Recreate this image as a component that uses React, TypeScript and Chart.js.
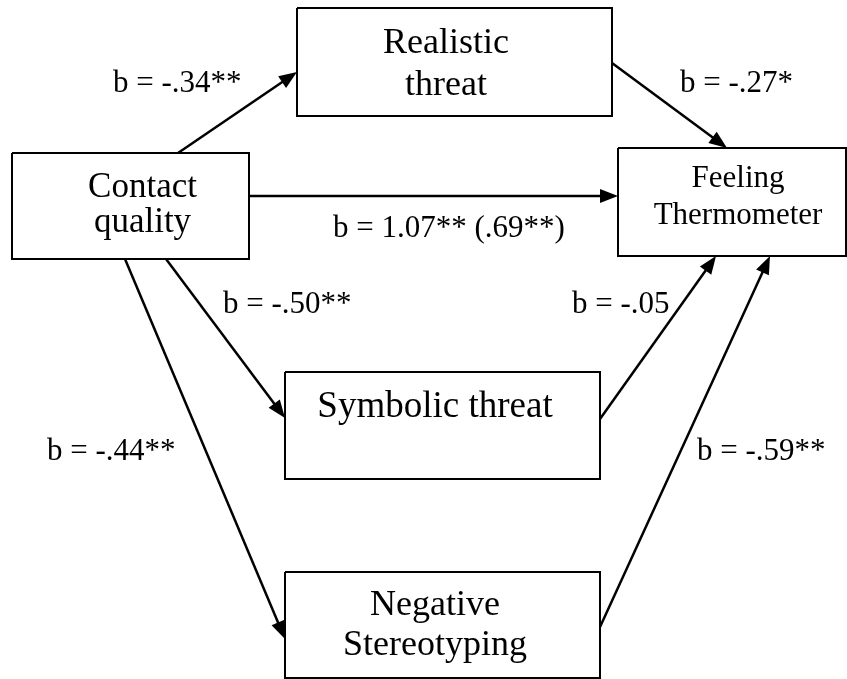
import React, { useEffect, useRef } from "react";
import { Chart, registerables } from "chart.js";

Chart.register(...registerables);

// ---- Data ----
const nodeLines: string[][] = [
  ["Contact", "quality"],
  ["Realistic", "threat"],
  ["Feeling", "Thermometer"],
  ["Symbolic threat"],
  ["Negative", "Stereotyping"],
];
const pathFrom = [0, 1, 0, 0, 0, 3, 4];
const pathTo = [1, 2, 2, 3, 4, 2, 2];
const pathCoefficients = [
  "b = -.34**",
  "b = -.27*",
  "b = 1.07** (.69**)",
  "b = -.50**",
  "b = -.44**",
  "b = -.05",
  "b = -.59**",
];

// ---- Layout (diagram units on a 847 x 679 plane) ----
const boxLayout = [
  { x0: 12, x1: 249, y0: 153, y1: 259 },
  { x0: 297, x1: 612, y0: 8, y1: 116 },
  { x0: 618, x1: 846, y0: 148, y1: 256 },
  { x0: 285, x1: 600, y0: 372, y1: 479 },
  { x0: 285, x1: 600, y0: 572, y1: 678 },
];
const textLayout = [
  { cx: 142.5, baselines: [197, 232], size: 35 },
  { cx: 446, baselines: [53, 95], size: 36 },
  { cx: 738, baselines: [187, 224], size: 31 },
  { cx: 435, baselines: [417], size: 37 },
  { cx: 435, baselines: [615, 655], size: 36 },
];
const arrowLayout = [
  [178, 153, 297, 72],
  [612, 63, 727, 148],
  [249, 196, 618, 196],
  [166, 259, 285, 418],
  [125, 259, 285, 639],
  [600, 419, 716, 256],
  [600, 627, 770, 256],
];
const labelLayout = [
  [113, 92],
  [680, 92],
  [333, 237],
  [223, 313],
  [47, 460],
  [572, 313],
  [697, 460],
];

const FONT = '"Liberation Serif", "Times New Roman", Times, serif';
const LABEL_SIZE = 31;
const HEAD_LEN = 18;
const HEAD_HALF = 7;

export default function App() {
  const canvasRef = useRef<HTMLCanvasElement | null>(null);

  useEffect(() => {
    document.body.style.margin = "0";
    const canvas = canvasRef.current;
    if (!canvas) return;

    const boxDatasets = boxLayout.map((b, i) => ({
      label: nodeLines[i].join(" "),
      data: [
        { x: b.x0, y: b.y0 },
        { x: b.x1, y: b.y0 },
        { x: b.x1, y: b.y1 },
        { x: b.x0, y: b.y1 },
        { x: b.x0, y: b.y0 },
      ],
      showLine: true,
      borderColor: "#000",
      borderWidth: 2,
      borderJoinStyle: "miter" as const,
      pointRadius: 0,
      pointHoverRadius: 0,
      clip: false as any,
      tension: 0,
    }));

    const arrowDatasets = arrowLayout.map((a, i) => {
      const [x0, y0, x1, y1] = a;
      const dx = x1 - x0;
      const dy = y1 - y0;
      const len = Math.hypot(dx, dy);
      const ex = x1 - (dx / len) * (HEAD_LEN - 2);
      const ey = y1 - (dy / len) * (HEAD_LEN - 2);
      return {
        label: `${pathFrom[i]}->${pathTo[i]}: ${pathCoefficients[i]}`,
        data: [
          { x: x0, y: y0 },
          { x: ex, y: ey },
        ],
        showLine: true,
        borderColor: "#000",
        borderWidth: 2.5,
        pointRadius: 0,
        pointHoverRadius: 0,
        clip: false as any,
        tension: 0,
      };
    });

    const diagramPlugin = {
      id: "diagramPlugin",
      afterDatasetsDraw(chart: any) {
        const ctx = chart.ctx as CanvasRenderingContext2D;
        const xs = chart.scales.x;
        const ys = chart.scales.y;
        const px = (v: number) => xs.getPixelForValue(v);
        const py = (v: number) => ys.getPixelForValue(v);
        ctx.save();
        // arrowheads
        ctx.fillStyle = "#000";
        arrowLayout.forEach((a) => {
          const [x0, y0, x1, y1] = a;
          const X0 = px(x0), Y0 = py(y0), X1 = px(x1), Y1 = py(y1);
          const ang = Math.atan2(Y1 - Y0, X1 - X0);
          const bx = X1 - Math.cos(ang) * HEAD_LEN;
          const by = Y1 - Math.sin(ang) * HEAD_LEN;
          const nx = -Math.sin(ang) * HEAD_HALF;
          const ny = Math.cos(ang) * HEAD_HALF;
          ctx.beginPath();
          ctx.moveTo(X1, Y1);
          ctx.lineTo(bx + nx, by + ny);
          ctx.lineTo(bx - nx, by - ny);
          ctx.closePath();
          ctx.fill();
        });
        // node texts
        ctx.fillStyle = "#000";
        ctx.textBaseline = "alphabetic";
        ctx.textAlign = "center";
        nodeLines.forEach((lines, i) => {
          const t = textLayout[i];
          ctx.font = `${t.size}px ${FONT}`;
          lines.forEach((line, j) => {
            ctx.fillText(line, px(t.cx), py(t.baselines[j]));
          });
        });
        // path labels
        ctx.textAlign = "left";
        ctx.font = `${LABEL_SIZE}px ${FONT}`;
        pathCoefficients.forEach((txt, i) => {
          const [lx, ly] = labelLayout[i];
          ctx.fillText(txt, px(lx), py(ly));
        });
        ctx.restore();
      },
    };

    const chart = new Chart(canvas, {
      type: "scatter",
      data: { datasets: [...boxDatasets, ...arrowDatasets] as any },
      options: {
        responsive: false,
        animation: false,
        devicePixelRatio: 1,
        layout: { padding: 0 },
        events: [],
        plugins: {
          legend: { display: false },
          tooltip: { enabled: false },
          title: { display: false },
        },
        scales: {
          x: { type: "linear", min: 0, max: 847, display: false },
          y: { type: "linear", min: 0, max: 679, reverse: true, display: false },
        },
      },
      plugins: [diagramPlugin],
    });

    return () => chart.destroy();
  }, []);

  return (
    <div style={{ width: 847, height: 679, background: "#fff" }}>
      <canvas ref={canvasRef} width={847} height={679} style={{ display: "block" }} />
    </div>
  );
}
